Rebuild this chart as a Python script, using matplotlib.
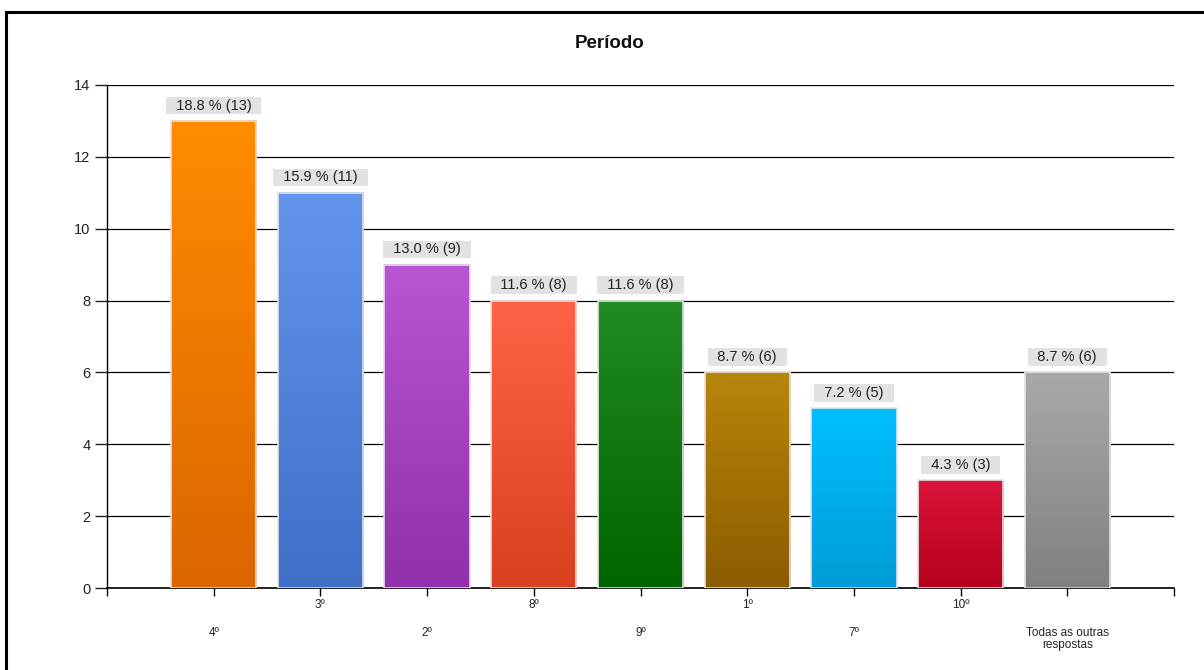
import matplotlib
matplotlib.use("Agg")
import matplotlib.pyplot as plt
import matplotlib.colors as mcolors
import numpy as np
from matplotlib.patches import Rectangle

plt.rcParams['font.family'] = ['Liberation Sans', 'DejaVu Sans']

categories = ['4º', '3º', '2º', '8º', '9º', '1º', '7º', '10º', 'Todas as outras\nrespostas']
counts = [13, 11, 9, 8, 8, 6, 5, 3, 6]
percents = [18.8, 15.9, 13.0, 11.6, 11.6, 8.7, 7.2, 4.3, 8.7]
top_colors = ['#ff8c00', '#6495ed', '#ba55d3', '#ff6347', '#228b22', '#b8860b', '#00bfff', '#dc143c', '#a9a9a9']
bottom_colors = ['#dc6500', '#3f6fc6', '#9030aa', '#d8401f', '#006400', '#8b5c00', '#009cd8', '#b5001b', '#808080']

fig = plt.figure(figsize=(12.04, 6.70), dpi=100)
ax = fig.add_axes([107/1204, 82/670, 1067/1204, 503/670])

x = np.arange(1, len(categories) + 1)
bars = ax.bar(x, counts, width=0.8, color='none', edgecolor='#e4e4e4', linewidth=1.2, zorder=3)

# vertical gradient inside each bar
for b, c1, c2 in zip(bars, top_colors, bottom_colors):
    cmap = mcolors.LinearSegmentedColormap.from_list('g', [c2, c1])
    grad = np.linspace(0, 1, 256).reshape(-1, 1)
    x0, y0 = b.get_x(), b.get_y()
    ax.imshow(grad, cmap=cmap, aspect='auto', origin='lower',
              extent=(x0, x0 + b.get_width(), y0, y0 + b.get_height()), zorder=2)

for xi, c, p in zip(x, counts, percents):
    ax.annotate(f'  {p:.1f} % ({c})  ', (xi, c), xytext=(0, 6), textcoords='offset points',
                ha='center', va='bottom', fontsize=10.5, color='#222222', zorder=4,
                bbox=dict(boxstyle='square,pad=0.12', fc='#e2e2e2', ec='none'))

ax.set_xlim(0, 10)
ax.set_ylim(0, 14)
ax.set_yticks(np.arange(0, 15, 2))
ax.set_xticks(np.arange(0, 11))
ax.set_xticklabels([])
ax.grid(axis='y', color='black', linewidth=0.9, zorder=1)
ax.set_axisbelow(True)
for s in ['right', 'top']:
    ax.spines[s].set_visible(False)
ax.spines['left'].set_linewidth(1.0)
ax.spines['bottom'].set_linewidth(1.2)
ax.tick_params(axis='y', length=9, width=1, labelsize=10.5, pad=3, colors='#222222')
ax.tick_params(axis='x', length=6, width=1, colors='black')

# staggered category labels
for i, (xi, lab) in enumerate(zip(x, categories)):
    off = -8 if i % 2 == 1 else -28
    ax.annotate(lab, (xi, 0), xytext=(0, off), textcoords='offset points',
                ha='center', va='top', fontsize=8.5, color='#222222',
                linespacing=1.0, annotation_clip=False)

fig.text(610/1204, 1 - 44/670, 'Período', ha='center', va='center',
         fontsize=13.5, fontweight='bold', color='#111111')

# outer frame
fig.patches.append(Rectangle((6/1204, -0.1), 1.2, 1 - 12/670 + 0.1, transform=fig.transFigure,
                             fill=False, edgecolor='black', linewidth=2.2))

fig.savefig('out.png', dpi=100)
